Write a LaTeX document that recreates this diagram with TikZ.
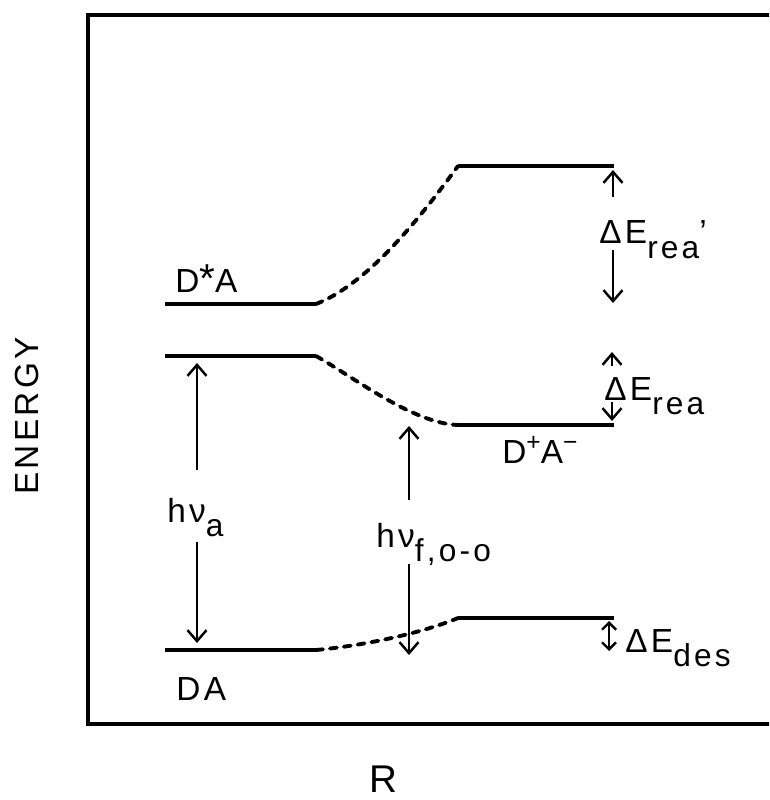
\documentclass[tikz,border=0pt]{standalone}
\usepackage{fontspec}
\setmainfont{Liberation Sans}[LetterSpace=10]
\usetikzlibrary{arrows.meta}
\newcommand{\lowtext}[1]{\raisebox{-8pt}{\fontsize{18}{20}\selectfont #1}}
\newcommand{\uptext}[1]{\raisebox{7pt}{\fontsize{14}{16}\selectfont #1}}

\begin{document}
\begin{tikzpicture}[x=0.02cm,y=-0.02cm,>={Straight Barb[length=2.2mm,width=3.8mm]},
        level/.style={line width=2.2pt},
        link/.style={line width=2.2pt,line cap=round,dash pattern=on 0.14cm off 0.14cm},
        gap/.style={line width=1.4pt,->},
        every node/.style={font=\fontsize{19}{22}\selectfont,inner sep=0pt}]
    \clip (0,0) rectangle (769,800);
    % frame
    \draw[line width=2.6pt] (800,15) -- (88,15) -- (88,724) -- (800,724);
    \node (energy) at (27,416) [rotate=90] {ENERGY};
    \node (r) at (383,792) [anchor=base,font=\fontsize{22}{24}\selectfont] {R};
    % levels
    \coordinate (exL) at (165,304); \coordinate (exM) at (316,304);
    \coordinate (exR0) at (458,166); \coordinate (exR) at (614,166);
    \coordinate (stL) at (165,356); \coordinate (stM) at (316,356);
    \coordinate (ctR0) at (460,425); \coordinate (ctR) at (614,425);
    \coordinate (gsL) at (165,650); \coordinate (gsM) at (316,650);
    \coordinate (gsR0) at (458,618); \coordinate (gsR) at (614,618);
    \draw[level] (exL) -- (exM);
    \draw[level] (exR0) -- (exR);
    \draw[level] (stL) -- (stM);
    \draw[level] (ctR0) -- (ctR);
    \draw[level] (gsL) -- (gsM);
    \draw[level] (gsR0) -- (gsR);
    \draw[link] (exM) .. controls (365,285) and (415,225) .. (exR0);
    \draw[link] (stM) .. controls (355,378) and (415,425) .. (ctR0);
    \draw[link] (gsM) .. controls (360,646) and (420,634) .. (gsR0);
    % state labels
    \node (dsa) at (175,292) [anchor=base west] {D{\fontsize{23}{23}\selectfont*}A};
    \node (dpa) at (502,463) [anchor=base west] {D\uptext{+}A\uptext{−}};
    \node (da) at (176,700) [anchor=base west] {DA};
    % absorption
    \node (hva) at (167,522) [anchor=base west] {hν\lowtext{a}};
    \coordinate (hva1) at (197,470); \coordinate (hvaT) at (197,363);
    \coordinate (hva2) at (197,542); \coordinate (hvaB) at (197,643);
    \draw[gap] (hva1) -- (hvaT);
    \draw[gap] (hva2) -- (hvaB);
    % fluorescence
    \node (hvf) at (376,547) [anchor=base west] {hν\lowtext{f,o-o}};
    \coordinate (hvf1) at (409,500); \coordinate (hvfT) at (409,426);
    \coordinate (hvf2) at (409,564); \coordinate (hvfB) at (409,655);
    \draw[gap] (hvf1) -- (hvfT);
    \draw[gap] (hvf2) -- (hvfB);
    % reorganisation energies
    \node (erea1) at (599,244) [anchor=base west] {ΔE\lowtext{rea}'};
    \coordinate (ea1) at (613,197); \coordinate (eaT) at (613,170);
    \coordinate (ea2) at (613,250); \coordinate (eaB) at (613,303);
    \draw[gap] (ea1) -- (eaT);
    \draw[gap] (ea2) -- (eaB);
    \node (erea) at (604,400) [anchor=base west] {ΔE\lowtext{rea}};
    \coordinate (eb1) at (612,366); \coordinate (ebT) at (612,352);
    \coordinate (eb2) at (612,402); \coordinate (ebB) at (612,421);
    \draw[gap] (eb1) -- (ebT);
    \draw[gap] (eb2) -- (ebB);
    \node (edes) at (625,652) [anchor=base west] {ΔE\lowtext{des}};
    \coordinate (ecT) at (609,621); \coordinate (ecB) at (609,651);
    \draw[gap,<->,>={Straight Barb[length=1.4mm,width=2.8mm]}] (ecT) -- (ecB);
\end{tikzpicture}
\end{document}
